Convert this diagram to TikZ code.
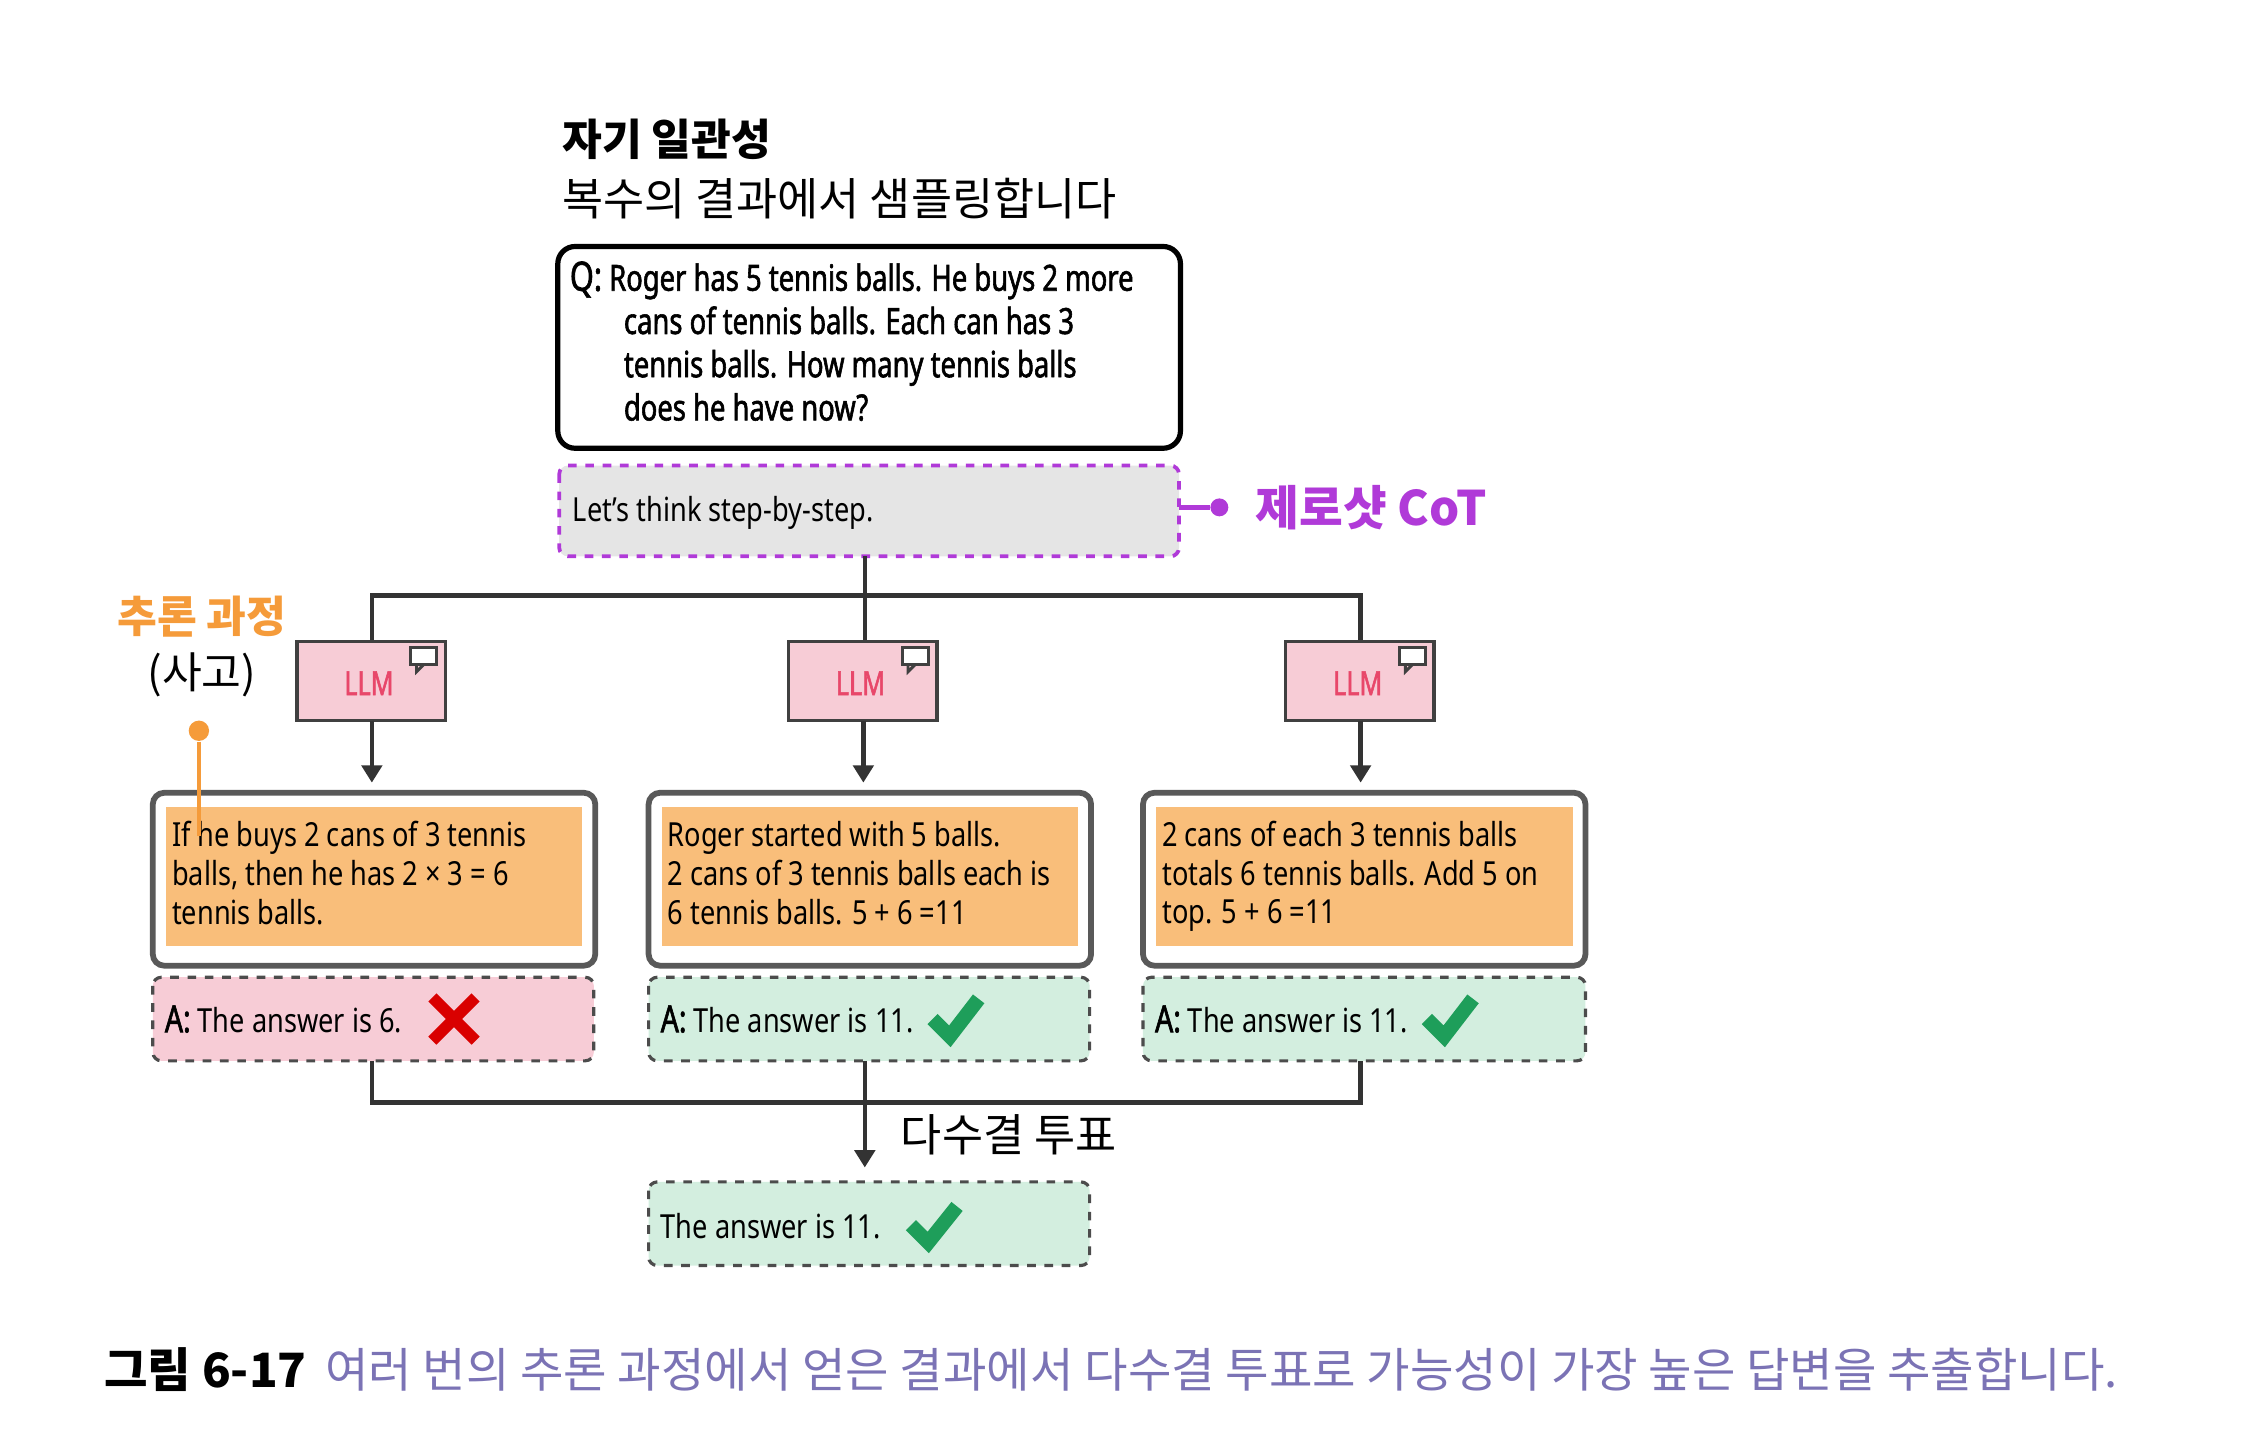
\documentclass[tikz,border=0pt]{standalone}
\usepackage{fontspec}
\setmainfont{Noto Sans}
\newfontfamily\cjk{Noto Sans CJK KR}
\newfontfamily\narrow[FakeStretch=0.82]{Noto Sans}
\newfontfamily\narrowb[FakeStretch=0.76,FakeBold=1.6]{Noto Sans}
\usetikzlibrary{arrows.meta}
\definecolor{pinkf}{HTML}{F7CCD6}
\definecolor{greenf}{HTML}{D3EEDF}
\definecolor{orangef}{HTML}{F9BE7A}
\definecolor{orangel}{HTML}{F59B3A}
\definecolor{purp}{HTML}{B03AD8}
\definecolor{llmred}{HTML}{E8476A}
\definecolor{capc}{HTML}{7B73B5}
\definecolor{chk}{HTML}{1E9E5A}
\begin{document}
\begin{tikzpicture}[x=0.5pt,y=-0.5pt,
  txt/.style={font=\narrow\fontsize{11.5}{13.5}\selectfont,align=left,anchor=west,inner sep=0},
  llm/.style={draw=black!75,line width=1.2pt,fill=pinkf},
  rbox/.style={draw=black!65,line width=2pt,rounded corners=4pt,fill=white},
  ans/.style={draw=black!70,dashed,line width=1.1pt,rounded corners=3pt},
  conn/.style={line width=1.6pt,black!80},
  arr/.style={conn,-{Triangle[length=6pt,width=7pt]}}]
\useasboundingbox (0,0) rectangle (1568,1002);
% title
\node[anchor=west,font=\cjk\bfseries\fontsize{15}{17}\selectfont] (t1) at (383,97) {자기 일관성};
\node[anchor=west,font=\cjk\fontsize{15.5}{17}\selectfont] (t2) at (383,138) {복수의 결과에서 샘플링합니다};
% Q box
\draw[line width=1.8pt,rounded corners=6pt] (387,171) rectangle (819,311);
\node[anchor=north west,align=left,inner sep=0,font=\narrowb\fontsize{12.5}{15}\selectfont] (q) at (395,181) {{\fontsize{14}{15}\selectfont Q:} Roger has 5 tennis balls. He buys 2 more\\
\hspace{1.5em}cans of tennis balls. Each can has 3\\
\hspace{1.5em}tennis balls. How many tennis balls\\
\hspace{1.5em}does he have now?};
% let's think
\draw[purp,dashed,line width=1.3pt,fill=black!10,rounded corners=3pt] (388,323) rectangle (818,386);
\node[txt] (lt) at (397,356) {Let’s think step-by-step.};
\coordinate (zs) at (818,352);
\node[circle,fill=purp,inner sep=2.2pt] (zd) at (846,352) {};
\draw[purp,line width=1.5pt] (zs) -- (zd);
\node[anchor=west,text=purp,font=\cjk\bfseries\fontsize{16.5}{18}\selectfont] (zl) at (864,352) {제로샷 CoT};
% tree
\coordinate (top) at (600,386); \coordinate (tj) at (600,413);
\draw[conn] (top) -- (tj);
\draw[conn] (258,445) -- (258,413) -- (944,413) -- (944,445);
\draw[conn] (600,413) -- (600,445);
% LLM boxes
\foreach \n/\x in {a/258,b/599,c/944}{
  \draw[llm] (\x-52,445) rectangle (\x+51,500);
  \node[text=llmred,font=\narrowb\fontsize{11.5}{13}\selectfont] (l\n) at (\x-2,474) {LLM};
  \draw[black!75,line width=1pt,fill=white] (\x+27,449) rectangle (\x+45,461);
  \draw[black!75,line width=1pt] (\x+31,461) -- (\x+31,466) -- (\x+36,461);
  \draw[arr] (\x,500) -- (\x,543);
}
% reasoning boxes
\foreach \x in {106,450,793}{
  \draw[rbox] (\x,550) rectangle (\x+307,670);
  \fill[orangef] (\x+9,560) rectangle (\x+298,656);
}
\node[txt] (r1) at (119,606) {If he buys 2 cans of 3 tennis\\balls, then he has 2 × 3 = 6\\tennis balls.};
\node[txt] (r2) at (463,606) {Roger started with 5 balls.\\2 cans of 3 tennis balls each is\\6 tennis balls. 5 + 6 =11};
\node[txt] (r3) at (806,608) {2 cans of each 3 tennis balls\\totals 6 tennis balls. Add 5 on\\top. 5 + 6 =11};
% answer boxes
\draw[ans,fill=pinkf] (106,678) rectangle (412,736);
\draw[ans,fill=greenf] (450,678) rectangle (756,736);
\draw[ans,fill=greenf] (793,678) rectangle (1100,736);
\node[txt] (a1) at (114,707) {{\narrowb\fontsize{13}{14}\selectfont A:} The answer is 6.};
\node[txt] (a2) at (458,707) {{\narrowb\fontsize{13}{14}\selectfont A:} The answer is 11.};
\node[txt] (a3) at (801,707) {{\narrowb\fontsize{13}{14}\selectfont A:} The answer is 11.};
\draw[red!85!black,line width=4pt] (300,692) -- (330,722) (330,692) -- (300,722);
\draw[chk,line width=5pt] (647,707) -- (659,719) -- (679,693);
\draw[chk,line width=5pt] (990,707) -- (1002,719) -- (1022,693);
% orange label
\node[text=orangel,font=\cjk\bfseries\fontsize{15}{17}\selectfont] (ol) at (140,428) {추론 과정};
\node[font=\cjk\fontsize{15}{17}\selectfont] (sa) at (140,468) {(사고)};
\node[circle,fill=orangel,inner sep=2.5pt] (od) at (138,507) {};
\coordinate (oe) at (138,580);
\draw[orangel,line width=1.5pt] (od) -- (oe);
% vote
\draw[conn] (258,736) -- (258,765) -- (944,765) -- (944,736);
\draw[arr] (600,736) -- (600,810);
\node[anchor=west,font=\cjk\fontsize{15.5}{17}\selectfont] (vt) at (618,787) {다수결 투표};
\draw[ans,fill=greenf] (450,820) rectangle (756,878);
\node[txt] (fa) at (458,851) {The answer is 11.};
\draw[chk,line width=5pt] (632,850) -- (644,862) -- (664,837);
% caption
\node[anchor=west,font=\cjk\fontsize{16.4}{18}\selectfont,inner sep=0] (cap) at (72,950) {\textbf{그림 6-17}\, \textcolor{capc}{여러 번의 추론 과정에서 얻은 결과에서 다수결 투표로 가능성이 가장 높은 답변을 추출합니다.}};
\end{tikzpicture}
\end{document}
